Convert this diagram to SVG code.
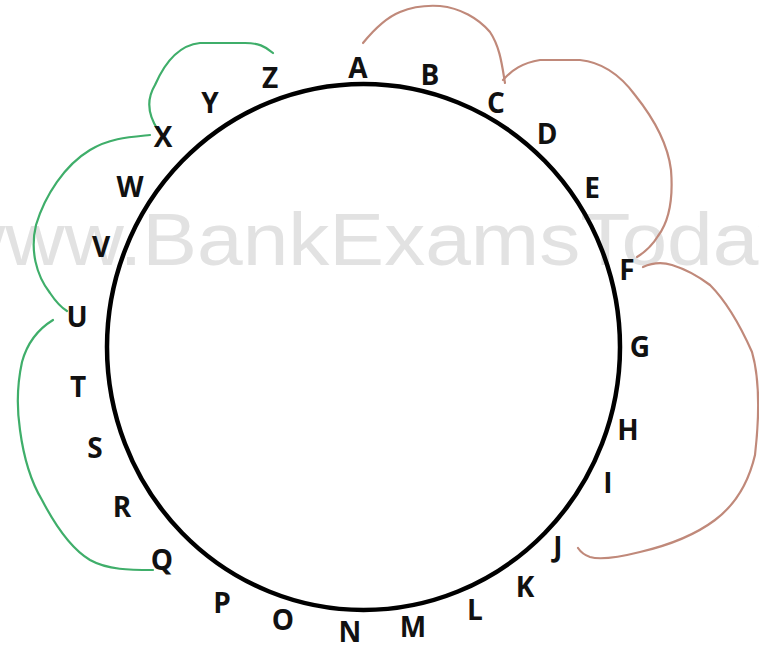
<svg xmlns="http://www.w3.org/2000/svg" width="759" height="649" viewBox="0 0 759 649">
<style>
.wm{font-family:"Liberation Sans",Arial,sans-serif;font-size:74px;fill:#e2e2e2}
.lb{font-family:"Open Sans","Liberation Sans",sans-serif;font-weight:bold;font-size:28px;fill:#111;text-anchor:middle}
.g{fill:none;stroke:#3fae6a;stroke-width:2.2;stroke-linecap:round;stroke-linejoin:round}
.b{fill:none;stroke:#c0897a;stroke-width:2.2;stroke-linecap:round;stroke-linejoin:round}
</style>
<rect width="759" height="649" fill="#fff"/>
<text class="wm" transform="translate(-54,265) scale(1.11,1)" x="0" y="0">www.BankExamsToday</text>
<g id="ring"><ellipse cx="363.5" cy="347" rx="256.5" ry="263" fill="none" stroke="#000" stroke-width="4.5"/></g>
<g id="connectors">
<path class="g" d="M273,53 C265,46 258,43 245,43 L200,43 C180,45 165,62 155,85 C146,100 148,115 158,130"/>
<path class="g" d="M150,135 C130,137 110,138 90,150 C65,165 45,195 36,225 C30,250 36,275 50,293 C56,302 62,308 67,311"/>
<path class="g" d="M53,320 C40,328 28,340 22,362 C17,385 17,410 20,430 C24,460 33,485 42,500 C55,525 70,548 90,560 C108,570 130,570 153,570"/>
<path class="b" d="M363,43 C372,32 385,18 400,12 C412,7 425,5 440,6 C460,8 478,18 490,32 C500,47 502,65 505,83"/>
<path class="b" d="M503,80 C512,70 522,63 540,60 L580,60 C600,62 618,72 635,95 C655,120 668,145 671,170 C673,195 670,220 658,236 C652,246 645,252 637,257"/>
<path class="b" d="M643,267 C652,263 662,262 672,265 C685,269 698,276 710,285 C725,300 740,325 752,352 C760,380 759,420 755,455 C748,485 735,505 715,520 C695,535 670,545 640,552 C620,557 600,560 590,557 C584,555 580,551 578,548"/>
</g>
<g id="A"><text class="lb" x="358" y="78">A</text></g>
<g id="B"><text class="lb" x="430" y="85">B</text></g>
<g id="C"><text class="lb" x="496" y="113">C</text></g>
<g id="D"><text class="lb" x="547" y="144">D</text></g>
<g id="E"><text class="lb" x="592" y="198">E</text></g>
<g id="F"><text class="lb" x="627" y="280">F</text></g>
<g id="G"><text class="lb" x="640" y="357">G</text></g>
<g id="H"><text class="lb" x="628" y="440">H</text></g>
<g id="I"><text class="lb" x="608" y="493">I</text></g>
<g id="J"><text class="lb" x="558" y="557">J</text></g>
<g id="K"><text class="lb" x="525" y="597">K</text></g>
<g id="L"><text class="lb" x="475" y="620">L</text></g>
<g id="M"><text class="lb" x="413" y="637">M</text></g>
<g id="N"><text class="lb" x="350" y="642">N</text></g>
<g id="O"><text class="lb" x="283" y="630">O</text></g>
<g id="P"><text class="lb" x="222" y="613">P</text></g>
<g id="Q"><text class="lb" x="162" y="570">Q</text></g>
<g id="R"><text class="lb" x="122" y="517">R</text></g>
<g id="S"><text class="lb" x="95" y="458">S</text></g>
<g id="T"><text class="lb" x="78" y="397">T</text></g>
<g id="U"><text class="lb" x="77" y="327">U</text></g>
<g id="V"><text class="lb" x="101" y="257">V</text></g>
<g id="W"><text class="lb" x="130" y="197">W</text></g>
<g id="X"><text class="lb" x="163" y="147">X</text></g>
<g id="Y"><text class="lb" x="210" y="113">Y</text></g>
<g id="Z"><text class="lb" x="270" y="88">Z</text></g>
</svg>
